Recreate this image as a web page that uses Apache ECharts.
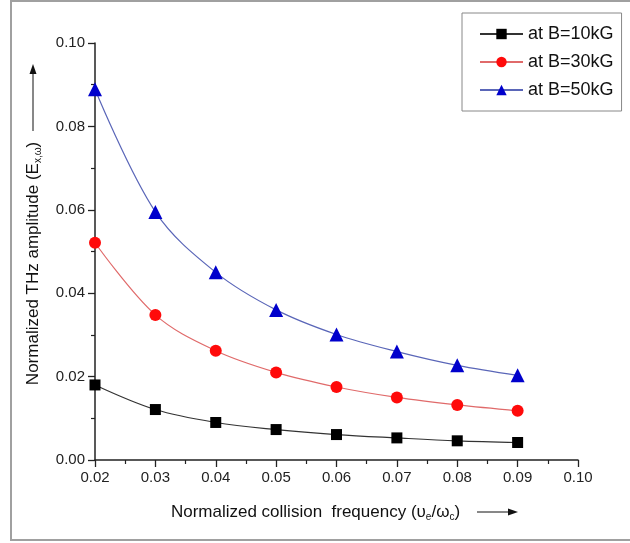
<!DOCTYPE html>
<html>
<head>
<meta charset="utf-8">
<style>
  html, body { margin: 0; padding: 0; background: #fff; }
  #chart { width: 630px; height: 543px; }
</style>
<script src="https://cdn.jsdelivr.net/npm/echarts@6/dist/echarts.min.js"></script>
</head>
<body>
<div id="chart"></div>
<script>
// ---- data ----
const xValues = [0.02, 0.03, 0.04, 0.05, 0.06, 0.07, 0.08, 0.09];
const seriesNames = ['at B=10kG', 'at B=30kG', 'at B=50kG'];
const b10 = [0.0180, 0.0121, 0.0090, 0.0073, 0.0061, 0.0053, 0.0046, 0.0042];
const b30 = [0.0521, 0.0348, 0.0262, 0.0210, 0.0175, 0.0150, 0.0132, 0.0118];
const b50 = [0.0889, 0.0595, 0.0450, 0.0360, 0.0301, 0.0260, 0.0227, 0.0203];
const xTicks = [0.02, 0.03, 0.04, 0.05, 0.06, 0.07, 0.08, 0.09, 0.10];
const yTicks = [0.00, 0.02, 0.04, 0.06, 0.08, 0.10];

const font = 'Liberation Sans, Arial, sans-serif';
const pairs = arr => xValues.map((x, i) => [x, arr[i]]);

const chart = echarts.init(document.getElementById('chart'), null, { renderer: 'canvas' });

function mkSeries(name, data, color, lineColor, symbol, size) {
  return {
    name: name,
    type: 'line',
    data: pairs(data),
    smooth: 0.35,
    symbol: symbol,
    symbolSize: size,
    showSymbol: true,
    itemStyle: { color: color },
    lineStyle: { color: lineColor, width: 1.2 },
    z: 3
  };
}

const option = {
  backgroundColor: '#fff',
  animation: false,
  grid: { left: 95, right: 52, top: 43, bottom: 83, containLabel: false },
  legend: {
    left: 462, top: 13,
    orient: 'vertical',
    padding: [12, 8, 12, 17],
    itemWidth: 43, itemHeight: 13, itemGap: 10,
    borderColor: '#888', borderWidth: 1,
    textStyle: { fontFamily: font, fontSize: 18, color: '#111', lineHeight: 14 },
    data: seriesNames
  },
  xAxis: {
    type: 'value',
    min: 0.02, max: 0.10, interval: 0.01,
    axisLine: { show: true, onZero: false, lineStyle: { color: '#222', width: 1.5 } },
    axisTick: { show: true, inside: false, length: 7, lineStyle: { color: '#222', width: 1.3 } },
    minorTick: { show: true, splitNumber: 2, length: 4, lineStyle: { color: '#222', width: 1.2 } },
    splitLine: { show: false },
    axisLabel: {
      fontFamily: font, fontSize: 15, color: '#222', margin: 10,
      formatter: v => v.toFixed(2)
    },
    name: 'Normalized collision  frequency (υ{s|e}/ω{s|c})',
    nameLocation: 'middle',
    nameGap: 42,
    nameTextStyle: {
      fontFamily: font, fontSize: 17, color: '#111',
      padding: [0, 42, 0, 0],
      rich: { s: { fontFamily: font, fontSize: 10, color: '#111', verticalAlign: 'bottom', padding: [10, 0, 0, 0] } }
    }
  },
  yAxis: {
    type: 'value',
    min: 0, max: 0.10, interval: 0.02,
    axisLine: { show: true, onZero: false, lineStyle: { color: '#222', width: 1.5 } },
    axisTick: { show: true, inside: false, length: 7, lineStyle: { color: '#222', width: 1.3 } },
    minorTick: { show: true, splitNumber: 2, length: 4, lineStyle: { color: '#222', width: 1.2 } },
    splitLine: { show: false },
    axisLabel: {
      fontFamily: font, fontSize: 15, color: '#222', margin: 10,
      formatter: v => v.toFixed(2)
    },
    name: 'Normalized THz amplitude (E{s|x,ω})',
    nameLocation: 'middle',
    nameRotate: 90,
    nameGap: 52,
    nameTextStyle: {
      fontFamily: font, fontSize: 17, color: '#111',
      padding: [0, 24, 0, 0],
      rich: { s: { fontFamily: font, fontSize: 10, color: '#111', verticalAlign: 'bottom', padding: [10, 0, 0, 0] } }
    }
  },
  series: [
    mkSeries(seriesNames[0], b10, '#000000', '#333333', 'rect', 11),
    mkSeries(seriesNames[1], b30, '#ff0a0a', '#e06a6a', 'circle', 12),
    mkSeries(seriesNames[2], b50, '#0000cc', '#5a66b8', 'triangle', 14)
  ],
  graphic: [
    // outer frame
    { type: 'rect', shape: { x: 11, y: 1, width: 640, height: 539 },
      style: { fill: 'none', stroke: '#a0a0a0', lineWidth: 2 }, silent: true, z: -1 },
    // x title arrow
    { type: 'line', shape: { x1: 477, y1: 512, x2: 510, y2: 512 },
      style: { stroke: '#111', lineWidth: 1 }, silent: true },
    { type: 'polygon', shape: { points: [[518, 512], [508, 508.5], [508, 515.5]] },
      style: { fill: '#111' }, silent: true },
    // y title arrow
    { type: 'line', shape: { x1: 33, y1: 131, x2: 33, y2: 72 },
      style: { stroke: '#111', lineWidth: 1 }, silent: true },
    { type: 'polygon', shape: { points: [[33, 64], [29.5, 74], [36.5, 74]] },
      style: { fill: '#111' }, silent: true }
  ]
};

chart.setOption(option);
</script>
</body>
</html>
